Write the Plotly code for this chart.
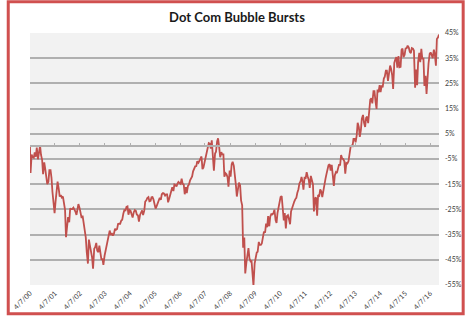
import pandas as pd
import plotly.graph_objects as go

start_date = "2000-04-07"
end_date = "2016-08-15"
v_start = [0.0]
v2000 = [-10.5, -3.2, -4.2, -4.5, -2.4, -4.1, -0.5, -5.1, -2.1, 0.3, -3.4, -5.3, -11.0, -6.3, -8.8, -13.3, -15.0]
v2001 = [-14.0, -9.4, -9.4, -12.5, -18.1, -22.6, -26.5, -22.0, -16.5, -14.0, -16.9, -19.9,
         -19.3, -20.3, -19.9, -22.3, -25.2, -36.0, -31.0, -28.1, -30.1, -24.6, -24.9, -24.9]
v2002 = [-24.3, -24.9, -26.0, -27.2, -25.4, -22.9, -24.4, -27.3, -28.4, -27.5, -31.4, -33.6,
         -36.2, -42.0, -46.5, -37.0, -39.6, -41.4, -44.1, -48.5, -40.6, -40.0, -38.3, -41.4]
v2003 = [-42.0, -39.4, -43.5, -45.0, -44.5, -47.0, -43.4, -41.6, -39.6, -37.6, -36.5, -33.4,
         -35.2, -34.4, -35.4, -34.7, -32.7, -33.1, -32.8, -30.8, -30.7, -30.7, -29.4, -29.1]
v2004 = [-26.6, -25.3, -25.4, -24.0, -23.8, -27.1, -25.3, -25.6, -27.0, -28.2, -26.1, -25.3,
         -25.6, -27.0, -27.4, -29.8, -27.1, -26.1, -25.4, -27.2, -25.5, -21.9, -21.4, -20.5]
v2005 = [-20.1, -21.8, -21.6, -20.2, -20.1, -21.0, -22.7, -24.7, -23.7, -22.7, -20.7, -20.4,
         -21.2, -19.0, -18.5, -18.7, -19.5, -19.0, -19.0, -22.2, -20.7, -18.9, -16.6, -16.2]
v2006 = [-17.7, -15.1, -15.4, -15.9, -14.8, -14.1, -14.6, -14.9, -12.8, -14.8, -15.2, -19.0,
         -16.2, -18.5, -15.7, -15.2, -13.5, -12.9, -11.9, -9.9, -9.1, -7.9, -7.8, -5.9]
v2007 = [-6.5, -5.6, -4.7, -4.0, -9.0, -8.4, -6.3, -4.5, -2.0, -1.0, 1.3, 1.1,
         -0.9, 2.4, -3.4, -9.6, -2.8, -2.1, 2.0, 3.2, -0.5, -4.3, -2.3, -3.2]
v2008 = [-3.2, -12.0, -10.6, -11.0, -12.2, -16.0, -9.6, -12.0, -7.1, -6.1, -7.7, -10.3,
         -15.3, -19.9, -16.9, -14.4, -15.4, -21.4, -23.4, -40.2, -36.2, -50.4, -46.2, -42.7]
v2009 = [-40.4, -44.4, -45.6, -45.5, -51.5, -55.3, -46.5, -43.8, -42.2, -41.8, -37.9, -39.1,
         -39.1, -38.5, -34.9, -33.8, -34.2, -30.6, -32.1, -27.7, -31.7, -27.9, -26.9, -27.0]
v2010 = [-26.5, -25.1, -29.2, -30.4, -26.5, -24.2, -22.3, -20.1, -19.7, -25.1, -29.4, -26.5,
         -32.6, -27.7, -27.3, -28.8, -30.9, -25.8, -24.4, -22.4, -21.9, -21.0, -20.4, -18.5]
v2011 = [-17.0, -14.7, -13.8, -12.1, -13.9, -17.2, -12.1, -12.9, -10.2, -11.8, -13.3, -16.5,
         -11.7, -13.2, -15.1, -25.8, -20.6, -20.3, -27.5, -19.3, -19.6, -17.1, -17.9, -20.1]
v2012 = [-17.0, -15.0, -12.7, -10.9, -9.4, -7.5, -7.1, -9.6, -7.3, -12.3, -15.7, -11.5,
         -10.2, -10.6, -9.2, -7.3, -7.3, -3.4, -4.8, -5.0, -5.9, -10.8, -6.6, -6.8]
v2013 = [-5.9, -2.9, -0.2, 0.3, 0.1, 3.0, 3.0, 1.6, 4.4, 9.4, 7.6, 3.8,
         6.5, 11.0, 12.5, 9.6, 7.7, 11.3, 11.8, 9.2, 16.2, 18.6, 19.1, 17.1]
v2014 = [21.9, 21.9, 17.6, 14.9, 22.6, 21.4, 24.3, 21.5, 24.2, 23.4, 26.9, 27.7,
         30.1, 30.1, 26.0, 29.0, 32.1, 30.8, 28.3, 22.8, 33.1, 34.5, 35.4, 31.2]
v2015 = [35.8, 31.4, 31.6, 38.3, 38.8, 35.4, 36.4, 38.9, 39.0, 40.0, 39.2, 37.5,
         37.0, 39.0, 38.8, 38.0, 23.3, 30.5, 24.3, 33.5, 37.1, 33.4, 38.7, 34.8]
v2016 = [34.8, 24.0, 28.0, 20.8, 30.5, 32.9, 36.7, 37.3, 36.2, 35.0, 38.4, 36.6,
         32.0, 42.6, 43.3, 44.4]

years = ["4/7/%02d" % y for y in range(0, 17)]
tick_dates = ["%d-04-07" % (2000 + y) for y in range(0, 17)]
y_ticks = [45, 35, 25, 15, 5, -5, -15, -25, -35, -45, -55]
y_labels = ["%d%%" % t for t in y_ticks]

values = (v_start + v2000 + v2001 + v2002 + v2003 + v2004 + v2005 + v2006 + v2007 + v2008
          + v2009 + v2010 + v2011 + v2012 + v2013 + v2014 + v2015 + v2016)
dates = [pd.Timestamp(start_date)] + list(pd.date_range("2000-04-15", end_date, freq="SMS"))
assert len(dates) == len(values), (len(dates), len(values))

W, H = 474, 323
ML, MR, MT, MB = 24, 27, 33, 31
PW, PH = W - ML - MR, H - MT - MB

RED = "#c0504d"
GRID = "#b0b0b0"
TXT = "#404040"

fig = go.Figure()
fig.add_trace(go.Scatter(x=dates, y=values, mode="lines",
                         line=dict(color=RED, width=1.8), hoverinfo="skip",
                         showlegend=False))

# the category axis crossing at 0%
fig.add_trace(go.Scatter(x=[dates[0]], y=[None], xaxis="x2", showlegend=False,
                         hoverinfo="skip"))

fig.update_layout(
    width=W, height=H,
    margin=dict(l=ML, r=MR, t=MT, b=MB, pad=0),
    paper_bgcolor="white",
    plot_bgcolor="#f2f2f2",
    title=dict(text="<b>Dot Com Bubble Bursts</b>", x=0.5, xanchor="center",
               y=1 - 17 / H, yanchor="middle",
               font=dict(family="Lato, Carlito, sans-serif", size=13, color="#1a1a1a")),
    xaxis=dict(type="date", range=[start_date, end_date],
               tickmode="array", tickvals=tick_dates, ticktext=years,
               tickangle=-45, showgrid=False, zeroline=False, showline=False,
               ticks="", ticklabelstandoff=2,
               tickfont=dict(family="Lato, sans-serif", size=7, color=TXT)),
    xaxis2=dict(type="date", range=[start_date, end_date], overlaying="x",
                anchor="free", position=55 / 100, side="bottom",
                tickmode="array", tickvals=tick_dates, showticklabels=False,
                ticks="inside", ticklen=3, tickcolor=GRID, tickwidth=1,
                showline=True, linecolor=GRID, linewidth=1.5, showgrid=False,
                zeroline=False),
    yaxis=dict(range=[-55, 45], side="right", tickmode="array",
               tickvals=y_ticks, ticktext=y_labels, showgrid=True,
               gridcolor=GRID, gridwidth=1.5, zeroline=False, showline=False,
               ticks="", ticklabelstandoff=5,
               tickfont=dict(family="Lato, sans-serif", size=7, color=TXT)),
    shapes=[dict(type="rect", xref="paper", yref="paper",
                 x0=-(ML - 1.5) / PW, x1=1 + (MR - 2) / PW,
                 y0=-(MB - 1.5) / PH, y1=1 + (MT - 1) / PH,
                 line=dict(color="#d0504f", width=3), fillcolor="rgba(0,0,0,0)",
                 layer="above")],
)

fig.write_html("out.html")
